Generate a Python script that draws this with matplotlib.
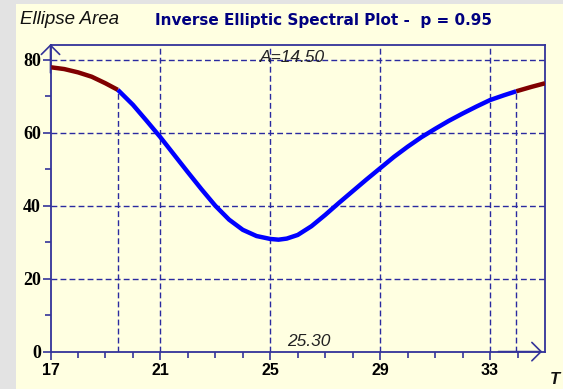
import numpy as np
import matplotlib
matplotlib.use("Agg")
import matplotlib.pyplot as plt
from matplotlib.patches import Rectangle

# curve (T, ellipse area)
T = [17.0, 17.5, 18.0, 18.5, 19.0, 19.45, 20.0, 20.5, 21.0, 21.5, 22.0, 22.5,
     23.0, 23.5, 24.0, 24.5, 25.0, 25.3, 25.6, 26.0, 26.5, 27.0, 27.5, 28.0,
     28.5, 29.0, 29.5, 30.0, 30.5, 31.0, 31.5, 32.0, 32.5, 33.0, 33.5, 33.95,
     34.5, 35.0]
area = [78.0, 77.5, 76.6, 75.4, 73.6, 71.8, 67.7, 63.3, 58.8, 54.0, 49.2, 44.5,
        40.0, 36.2, 33.4, 31.7, 30.9, 30.7, 31.0, 32.0, 34.4, 37.5, 40.8, 44.0,
        47.2, 50.3, 53.4, 56.2, 58.8, 61.1, 63.3, 65.3, 67.2, 69.0, 70.3, 71.4,
        72.6, 73.6]
t_lo, t_hi = 19.45, 33.95      # band limits, A = t_hi - t_lo
t_min = 25.30
p_level = 0.95
x_ticks = [17, 21, 25, 29, 33]
y_ticks = [0, 20, 40, 60, 80]

navy = "#333399"
grid_c = "#2a2aa0"
cream = "#ffffe1"

T = np.array(T)
area = np.array(area)

fig = plt.figure(figsize=(5.63, 3.89), dpi=100)
fig.patch.set_facecolor("#e3e3e3")
fig.patches.append(Rectangle((16 / 563, 0), 1, 1 - 4 / 389, transform=fig.transFigure,
                             facecolor=cream, edgecolor="none", zorder=-10))

ax = fig.add_axes([50.5 / 563, 37.4 / 389, (545 - 50.5) / 563, (351.6 - 45) / 389])
ax.set_facecolor(cream)
ax.set_xlim(17, 35)
ax.set_ylim(0, 84.1)

# grid
dash = (0, (4.2, 2.3))
for x in x_ticks[1:]:
    ax.axvline(x, color=grid_c, lw=1.0, ls=dash, zorder=1)
for y in y_ticks[1:]:
    ax.axhline(y, color=grid_c, lw=1.0, ls=dash, zorder=1)

# band limit lines up to the curve
a_lo = area[T == t_lo][0]
a_hi = area[T == t_hi][0]
ax.vlines([t_lo, t_hi], 0, [a_lo, a_hi], color=grid_c, lw=1.0, ls=dash, zorder=1)

# curve
m_in = (T >= t_lo) & (T <= t_hi)
ax.plot(T[T <= t_lo], area[T <= t_lo], color="#800000", lw=3.2, solid_capstyle="butt", zorder=3)
ax.plot(T[T >= t_hi], area[T >= t_hi], color="#800000", lw=3.2, solid_capstyle="butt", zorder=3)
ax.plot(T[m_in], area[m_in], color="#0000ff", lw=3.2, solid_capstyle="butt", zorder=4)

# spines
for s in ["left", "bottom", "top", "right"]:
    ax.spines[s].set_color(navy)
    ax.spines[s].set_linewidth(1.3)

ax.set_xticks(x_ticks)
ax.set_xticks(np.arange(17, 35, 1), minor=True)
ax.set_yticks(y_ticks)
ax.set_yticks([10, 30, 50, 70], minor=True)
ax.tick_params(axis="both", which="major", color=navy, width=1.2, length=6, direction="out")
ax.tick_params(axis="both", which="minor", color=navy, width=1.2, length=4, direction="out")
ax.tick_params(axis="x", pad=2)
ax.tick_params(axis="y", pad=1)
for lab in ax.get_xticklabels():
    lab.set_fontfamily("Liberation Sans")
    lab.set_fontweight("bold")
    lab.set_fontsize(11.5)
for lab in ax.get_yticklabels():
    lab.set_fontfamily("Liberation Serif")
    lab.set_fontweight("bold")
    lab.set_fontsize(13)

# axis arrows
ax.annotate("", xy=(0, 1.012), xytext=(0, 0.9), xycoords="axes fraction",
            arrowprops=dict(arrowstyle="->,head_length=0.55,head_width=0.55", color=navy,
                            lw=1.2, mutation_scale=12), annotation_clip=False)
ax.annotate("", xy=(1.0, 0), xytext=(0.9, 0), xycoords="axes fraction",
            arrowprops=dict(arrowstyle="->,head_length=0.55,head_width=0.55", color=navy,
                            lw=1.2, mutation_scale=12), annotation_clip=False)

# texts
ax.text(25.8, 80.8, "A=%.2f" % (t_hi - t_lo), ha="center", va="center", fontsize=12.5,
        style="italic", family="Liberation Sans", color="#222222")
ax.text(26.4, 2.8, "%.2f" % t_min, ha="center", va="center", fontsize=12.5,
        style="italic", family="Liberation Sans", color="#222222")
fig.text(20 / 563, 1 - 20 / 389, "Ellipse Area", ha="left", va="center", fontsize=13.5,
         style="italic", family="Liberation Sans", color="#111111")
fig.text(155 / 563, 1 - 20 / 389, "Inverse Elliptic Spectral Plot -  p = %.2f" % p_level,
         ha="left", va="center", fontsize=11, fontweight="bold", family="DejaVu Sans",
         color="#000080")
fig.text(555 / 563, 1 - 379 / 389, "T", ha="center", va="center", fontsize=12,
         style="italic", fontweight="bold", family="Liberation Sans", color="#111111")

fig.savefig("out.png", dpi=100, facecolor=fig.get_facecolor())
